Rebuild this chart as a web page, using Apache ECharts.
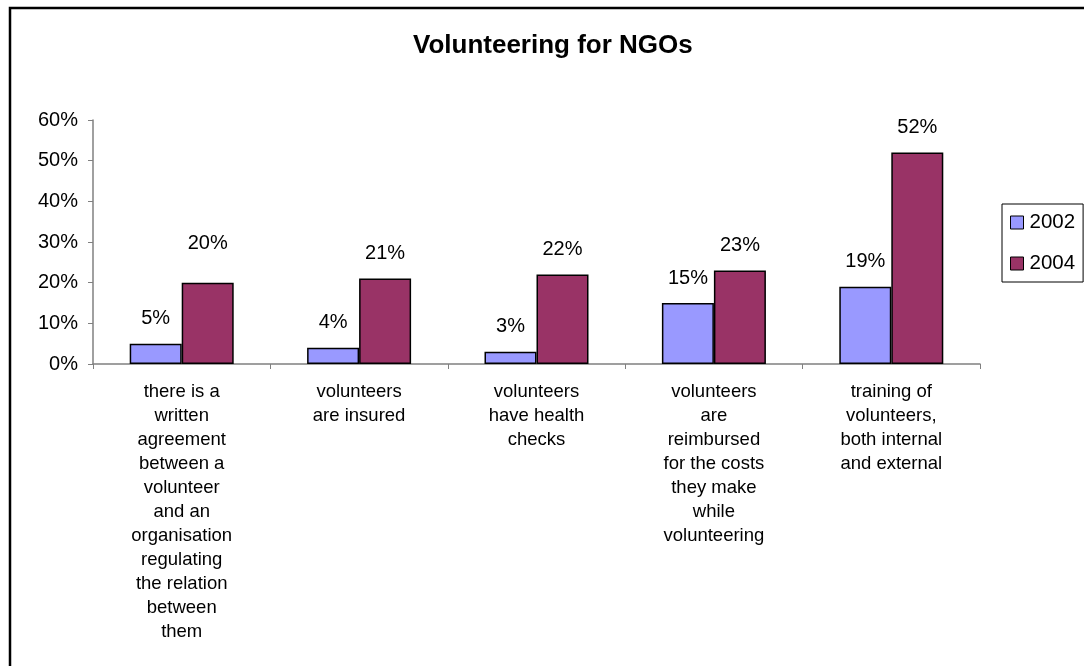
<!DOCTYPE html>
<html>
<head>
<meta charset="utf-8">
<script src="https://cdn.jsdelivr.net/npm/echarts@6/dist/echarts.min.js"></script>
<style>
  html, body { margin: 0; padding: 0; background: #fff; }
  #chart { width: 1084px; height: 666px; }
</style>
</head>
<body>
<div id="chart"></div>
<script>
// Category labels (line breaks as laid out under the axis)
const categories = [
  'there is a\nwritten\nagreement\nbetween a\nvolunteer\nand an\norganisation\nregulating\nthe relation\nbetween\nthem',
  'volunteers\nare insured',
  'volunteers\nhave health\nchecks',
  'volunteers\nare\nreimbursed\nfor the costs\nthey make\nwhile\nvolunteering',
  'training of\nvolunteers,\nboth internal\nand external'
];
const seriesNames = ['2002', '2004'];
const values2002 = [5, 4, 3, 15, 19];
const values2004 = [20, 21, 22, 23, 52];
const yTicks = [0, 10, 20, 30, 40, 50, 60];

const FONT = "'Liberation Sans', Arial, sans-serif";
const barBorder = { borderColor: '#000', borderWidth: 1.5 };
const labelStyle = {
  show: true, position: 'top', distance: 15,
  formatter: '{c}%', color: '#000', fontFamily: FONT, fontSize: 20, lineHeight: 20
};

const chart = echarts.init(document.getElementById('chart'), null, { renderer: 'canvas' });
chart.setOption({
  animation: false,
  backgroundColor: '#fff',
  title: {
    text: 'Volunteering for NGOs',
    left: 408, top: 27,
    textStyle: { fontFamily: FONT, fontWeight: 'bold', fontSize: 26, color: '#000', lineHeight: 27 }
  },
  graphic: [{
    type: 'polyline',
    shape: { points: [[10, 700], [10, 8], [1100, 8]] },
    style: { stroke: '#000', lineWidth: 2.5, fill: null }
  }],
  legend: {
    orient: 'vertical',
    left: 1002, top: 204,
    padding: [8, 8, 8, 8],
    itemGap: 20,
    itemWidth: 13, itemHeight: 13,
    icon: 'rect',
    borderColor: '#000', borderWidth: 1,
    data: seriesNames,
    itemStyle: { borderColor: '#000', borderWidth: 1 },
    textStyle: { fontFamily: FONT, fontSize: 20.5, color: '#000', lineHeight: 20, padding: [0, 0, 0, 1] }
  },
  grid: { left: 93, right: 104, top: 120, bottom: 302, containLabel: false },
  xAxis: {
    type: 'category',
    data: categories,
    axisLine: { lineStyle: { color: '#808080', width: 1.5 } },
    axisTick: { show: true, length: 5, lineStyle: { color: '#808080' } },
    axisLabel: {
      interval: 0, margin: 16, color: '#000',
      fontFamily: FONT, fontSize: 18.5, lineHeight: 24, align: 'center'
    }
  },
  yAxis: {
    type: 'value',
    min: yTicks[0], max: yTicks[yTicks.length - 1], interval: 10,
    splitLine: { show: false },
    axisLine: { show: true, lineStyle: { color: '#808080', width: 1.5 } },
    axisTick: { show: true, length: 5, lineStyle: { color: '#808080' } },
    axisLabel: { formatter: '{value}%', margin: 15, color: '#000', fontFamily: FONT, fontSize: 20 }
  },
  series: [
    {
      name: seriesNames[0], type: 'bar', data: values2002,
      barWidth: 52, barGap: '0%',
      itemStyle: Object.assign({ color: '#9999FF' }, barBorder),
      label: labelStyle
    },
    {
      name: seriesNames[1], type: 'bar',
      data: values2004.map((v, i) => i === 0
        ? { value: v, label: { offset: [0, -14] } }
        : v),
      barWidth: 52, barGap: '0%',
      itemStyle: Object.assign({ color: '#993366' }, barBorder),
      label: labelStyle
    }
  ]
});
</script>
</body>
</html>
